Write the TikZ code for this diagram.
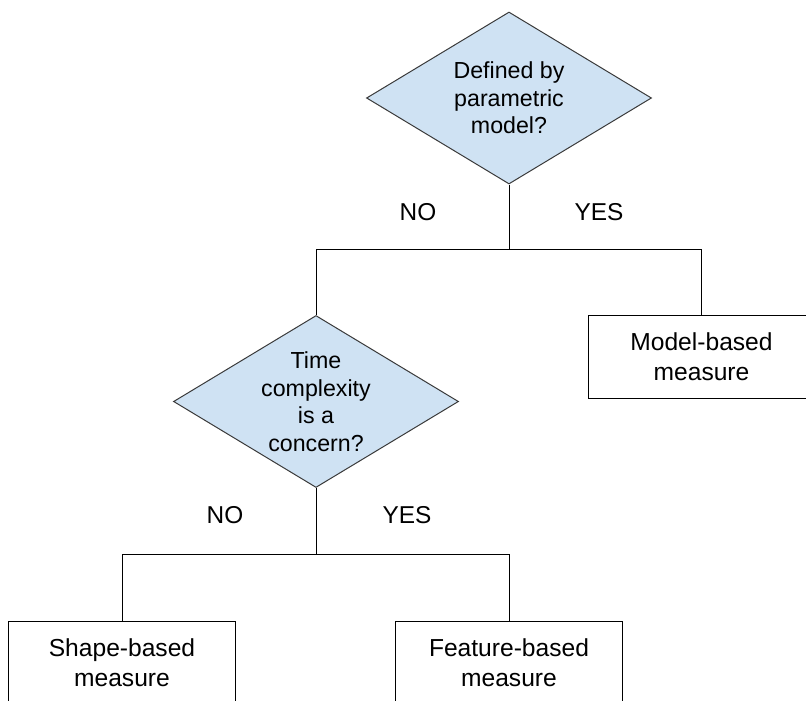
\documentclass[tikz,border=0pt]{standalone}
\usepackage{fontspec}
\setmainfont{Liberation Sans}
\usetikzlibrary{shapes.geometric}
\definecolor{dfill}{HTML}{CFE2F3}
\definecolor{dline}{HTML}{3A3A3A}
\begin{document}
\begin{tikzpicture}[x=1pt,y=1pt,
  decision/.style={diamond, draw=dline, fill=dfill, line width=1pt, inner sep=0pt,
    aspect=1.66, minimum width=285pt, minimum height=172pt, align=center,
    font=\fontsize{23.2}{27.5}\selectfont},
  result/.style={rectangle, draw=black, line width=1pt, minimum width=227pt,
    minimum height=83pt, align=center, font=\fontsize{24.6}{30}\selectfont},
  lbl/.style={font=\fontsize{24.4}{29}\selectfont},
  conn/.style={draw=black, line width=1pt}]
\useasboundingbox (0,0) rectangle (806,-701);
\clip (0,0) rectangle (806,-701);
\node[decision] (d1) at (509,-98) {Defined by\\parametric\\model?};
\node[decision] (d2) at (316,-401.5) {Time\\complexity\\is a\\concern?};
\node[result] (m) at (701.5,-356.5) {Model-based\\measure};
\node[result] (s) at (122,-662.5) {Shape-based\\measure};
\node[result] (f) at (509,-662.5) {Feature-based\\measure};
\coordinate (j1) at (509,-249);
\coordinate (j2) at (316,-554);
\draw[conn] (d1.south) -- (j1) -| (d2.north);
\draw[conn] (j1) -| (m.north);
\draw[conn] (d2.south) -- (j2) -| (s.north);
\draw[conn] (j2) -| (f.north);
\node[lbl] (no1) at (418,-212) {NO};
\node[lbl] (yes1) at (599,-212) {YES};
\node[lbl] (no2) at (225,-515) {NO};
\node[lbl] (yes2) at (407,-515) {YES};
\end{tikzpicture}
\end{document}
